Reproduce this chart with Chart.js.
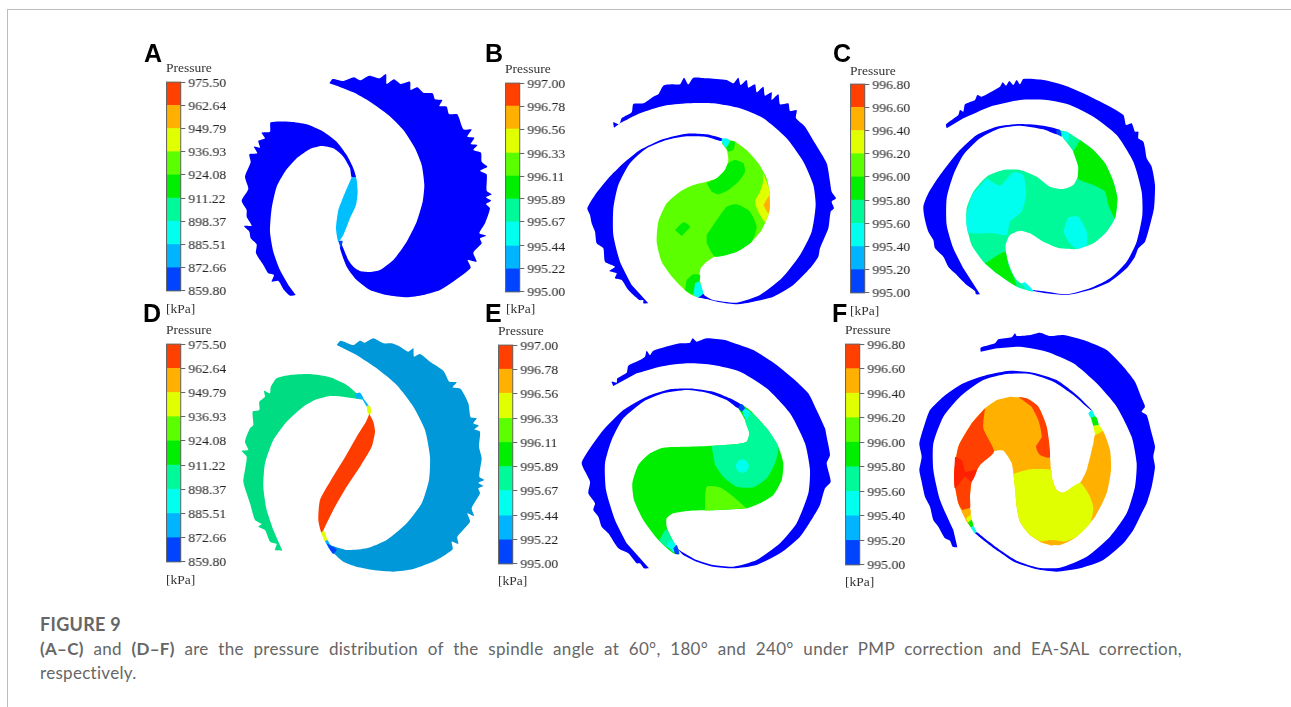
<!DOCTYPE html>
<html>
<head>
<meta charset="utf-8">
<title>Figure 9</title>
<script src="https://cdn.jsdelivr.net/npm/chart.js@4"></script>
<style>
html, body { margin: 0; padding: 0; background: #fff; width: 1291px; height: 707px; overflow: hidden; }
#frame { position: absolute; left: 7px; top: 9px; width: 1300px; height: 720px; border-left: 1.5px solid #bdbdbd; border-top: 1.5px solid #bdbdbd; }
canvas { position: absolute; }
.t { position: absolute; font-family: "Liberation Serif", serif; font-size: 13.5px; color: #333; line-height: 14px; white-space: nowrap; }
.letter { position: absolute; font-family: "Liberation Sans", sans-serif; font-weight: bold; font-size: 25px; line-height: 25px; color: #000; }
.cap { position: absolute; left: 40px; width: 1142px; font-family: Lato, "Open Sans", sans-serif; font-size: 17px; letter-spacing: 0.3px; line-height: 24px; color: #666; white-space: nowrap; }
</style>
</head>
<body>
<div id="frame"></div>
<div class="cap" style="top:612px;font-weight:bold;font-size:18px">FIGURE 9</div>
<div class="cap" style="top:637px;white-space:normal;text-align:justify;text-align-last:justify"><b>(A–C)</b> and <b>(D–F)</b> are the pressure distribution of the spindle angle at 60°, 180° and 240° under PMP correction and EA-SAL correction,</div>
<div class="cap" style="top:661px">respectively.</div>
<script>
// colour bar tick values
var ticksAD = [859.80, 872.66, 885.51, 898.37, 911.22, 924.08, 936.93, 949.79, 962.64, 975.50];
var ticksBE = [995.00, 995.22, 995.44, 995.67, 995.89, 996.11, 996.33, 996.56, 996.78, 997.00];
var ticksCF = [995.00, 995.20, 995.40, 995.60, 995.80, 996.00, 996.20, 996.40, 996.60, 996.80];

// contour outlines (panel units, y going down)
var aRight = [[598,145],[608,132],[640,138],[672,127],[690,136],[718,122],[748,130],[768,117],[770,147],[792,133],[812,147],[840,140],[842,165],[862,157],[880,173],[908,175],[915,193],[937,195],[928,213],[950,215],[957,237],[982,238],[1000,283],[1025,283],[1012,305],[1033,308],[1022,327],[1042,330],[1030,345],[1053,353],[1055,380],[1072,395],[1050,407],[1070,418],[1070,467],[1085,478],[1068,487],[1083,497],[1068,507],[1080,520],[1065,565],[1048,595],[1068,602],[1050,610],[1055,625],[1030,653],[1040,680],[1013,675],[1022,698],[990,725],[930,765],[880,780],[830,787],[770,780],[720,765],[680,735],[650,695],[630,640],[632,620],[640,640],[655,675],[670,695],[690,708],[720,711],[750,705],[790,675],[830,620],[860,560],[878,500],[883,450],[875,390],[855,340],[820,285],[775,240],[720,200],[670,172],[620,152]];
var aLeft = [[497,780],[480,782],[462,765],[445,738],[425,740],[432,720],[415,715],[400,690],[378,655],[380,628],[362,610],[358,590],[342,573],[365,572],[350,545],[350,525],[335,497],[355,462],[345,425],[362,382],[358,358],[382,355],[372,335],[390,338],[385,318],[405,310],[395,293],[420,290],[422,262],[480,260],[530,268],[580,290],[620,320],[650,360],[668,395],[678,427],[665,427],[660,400],[640,365],[610,340],[575,333],[540,342],[500,370],[465,410],[440,455],[425,520],[420,590],[430,650],[450,705],[475,750]];
var aLens = [[665,427],[678,427],[683,470],[678,510],[660,550],[640,600],[625,620],[618,580],[625,525],[640,485],[655,450]];
var aLensFoot = [[625,618],[638,618],[632,640]];

var bTop = [[402,278],[400,262],[418,268],[425,250],[455,232],[460,207],[490,205],[520,185],[535,178],[550,152],[575,148],[600,148],[612,128],[625,148],[640,128],[680,130],[740,135],[760,145],[775,128],[782,150],[800,135],[805,158],[825,148],[830,172],[850,155],[855,182],[875,172],[875,195],[895,178],[900,208],[925,205],[930,228],[950,225],[948,250],[975,275],[1005,325],[1040,385],[1050,440],[1055,470],[1068,490],[1055,500],[1062,520],[1052,530],[1045,580],[1020,640],[1015,665],[990,700],[940,750],[880,785],[820,800],[770,808],[720,802],[680,792],[650,785],[664,770],[675,782],[700,795],[770,803],[840,780],[905,730],[960,660],[995,590],[1007,510],[1000,450],[970,380],[920,310],[850,250],[780,220],[700,205],[620,205],[550,213],[480,235],[420,265]];
var bLeft = [[505,805],[490,805],[490,795],[478,795],[445,765],[425,735],[405,730],[410,715],[388,708],[405,695],[375,680],[370,640],[350,625],[345,590],[335,565],[330,540],[322,520],[345,480],[385,430],[430,385],[480,345],[550,312],[620,296],[680,298],[730,312],[722,318],[680,306],[620,304],[560,315],[500,340],[450,385],[415,450],[400,520],[400,600],[420,680],[455,750]];
var bChamber = [[735,312],[765,320],[800,345],[835,385],[860,430],[870,480],[868,530],[845,585],[815,620],[770,650],[705,665],[680,680],[662,700],[658,730],[665,760],[650,785],[620,770],[580,730],[545,680],[530,620],[535,560],[560,505],[600,470],[640,450],[680,440],[710,430],[735,405],[745,375],[740,345],[725,325]];
var bBlobUp = [[680,445],[710,430],[735,405],[745,385],[765,375],[790,385],[795,410],[775,440],[745,465],[715,478],[695,470]];
var bBlobMid = [[680,600],[700,570],[740,515],[770,508],[810,530],[830,575],[815,620],[770,650],[705,665],[680,625]];
var bBlobSmall = [[585,585],[610,562],[630,575],[605,603]];
var bBlobLow = [[620,735],[640,718],[660,720],[658,740],[638,778],[615,765]];
var bBlobTop = [[735,330],[750,318],[765,320],[760,345],[745,350]];
var bYellow = [[850,415],[865,455],[870,480],[868,530],[855,560],[835,530],[825,500],[840,470],[850,440]];
var bOrange = [[868,480],[870,510],[865,535],[850,510]];
var bNeckUp = [[725,312],[738,310],[750,318],[738,338],[727,325]];
var bNeckLow = [[645,745],[658,740],[670,775],[655,787],[640,780]];

var cTop = [[350,280],[348,268],[385,240],[390,225],[400,230],[405,208],[435,195],[442,180],[455,185],[510,155],[518,142],[528,152],[538,138],[550,150],[560,135],[570,148],[580,132],[640,135],[700,150],[760,175],[820,205],[880,240],[888,270],[905,265],[915,290],[925,290],[925,310],[940,320],[945,340],[950,370],[965,395],[975,450],[972,520],[960,570],[945,620],[925,640],[915,665],[890,700],[840,740],[780,765],[710,780],[650,775],[610,768],[605,765],[650,770],[710,778],[780,760],[840,730],[890,680],[920,620],[937,540],[935,470],[910,380],[860,300],[790,245],[720,210],[650,195],[570,195],[480,215],[400,250]];
var cLeft = [[450,778],[438,778],[435,768],[410,750],[375,715],[355,695],[340,665],[315,640],[310,615],[295,590],[285,555],[280,515],[295,475],[330,420],[385,350],[440,300],[500,275],[570,267],[640,272],[690,285],[680,298],[640,283],[570,272],[510,280],[450,310],[400,360],[370,420],[350,490],[350,570],[370,640],[400,700]];
var cChamber = [[685,285],[710,290],[750,315],[790,345],[825,385],[850,440],[862,490],[855,550],[830,590],[790,625],[740,642],[690,640],[640,620],[600,595],[570,587],[540,600],[527,630],[530,665],[545,710],[560,735],[580,750],[610,770],[560,755],[500,715],[460,680],[425,630],[410,570],[410,520],[430,470],[470,425],[520,405],[570,405],[620,425],[660,455],[700,462],[730,450],[745,420],[745,395],[730,350],[700,310]];
var cGreen = [[750,315],[790,345],[825,385],[850,440],[862,490],[855,550],[835,510],[825,470],[790,450],[745,432],[745,395],[730,350]];
var cCyan = [[470,430],[510,452],[550,412],[580,420],[588,480],[575,530],[540,560],[530,600],[490,595],[415,592],[410,540],[425,480]];
var cCyanSmall = [[700,590],[715,548],[745,545],[770,590],[770,630],[740,642],[715,620]];
var cGreenLow = [[465,685],[525,650],[535,690],[560,753],[500,715]];
var cNeckUp = [[695,290],[715,292],[715,320],[700,310]];
var cNeckBlue = [[678,285],[690,285],[695,305],[680,298]];
var cNeckLow = [[575,745],[585,742],[610,768],[590,765]];

var dRight = [[620,135],[632,122],[670,135],[690,122],[705,128],[730,115],[760,130],[785,130],[810,140],[835,155],[850,145],[852,170],[870,162],[900,185],[940,212],[958,245],[980,247],[968,262],[992,267],[1015,310],[1022,352],[1040,355],[1030,370],[1046,377],[1033,388],[1050,395],[1047,440],[1055,475],[1048,530],[1063,540],[1045,548],[1060,558],[1045,565],[1050,580],[1025,625],[1032,648],[1012,640],[1020,665],[982,710],[985,732],[965,725],[968,748],[920,780],[850,807],[790,815],[730,810],[680,800],[640,785],[610,758],[595,735],[650,750],[710,745],[770,720],[830,670],[875,610],[897,540],[900,470],[885,390],[850,320],[800,255],[740,205],[680,165]];
var dLeft = [[457,752],[435,750],[440,732],[420,725],[405,690],[385,680],[395,672],[375,660],[360,610],[340,545],[345,510],[350,470],[335,452],[355,450],[345,425],[360,385],[370,375],[368,335],[388,330],[388,305],[405,290],[402,272],[420,280],[422,262],[440,235],[480,225],[540,222],[600,232],[650,255],[680,280],[700,298],[680,296],[640,290],[600,288],[560,298],[520,320],[470,365],[430,420],[405,490],[400,560],[410,630],[430,690]];
var dNeck = [[675,282],[690,278],[700,295],[680,296]];
var dNeckBlue = [[688,279],[718,320],[711,320],[697,298]];
var dNeckYellow = [[710,318],[720,318],[724,335],[718,345],[712,335]];
var dLens = [[718,342],[730,365],[735,395],[725,440],[690,500],[650,560],[615,620],[585,680],[575,700],[565,660],[570,600],[600,545],[640,480],[680,410],[708,365]];
var dFootYellow = [[573,698],[582,692],[592,722],[585,726]];
var dFootCyan = [[585,724],[592,720],[606,744],[597,746]];
var dFootBlue = [[590,730],[620,748],[610,762],[600,750]];

var eTop = [[400,258],[395,245],[410,248],[412,235],[440,218],[445,197],[480,180],[495,170],[500,152],[510,165],[520,152],[600,130],[630,128],[638,115],[650,125],[680,115],[735,120],[750,125],[820,150],[890,195],[950,245],[985,280],[1005,320],[1035,385],[1040,410],[1050,465],[1040,490],[1052,545],[1035,565],[1020,615],[1000,650],[960,710],[900,760],[830,795],[760,805],[700,800],[650,785],[610,765],[600,755],[590,745],[605,755],[650,780],[700,795],[760,800],[830,780],[900,730],[950,670],[985,580],[990,510],[975,430],[930,340],[860,265],[780,215],[700,195],[620,190],[540,200],[470,220]];
var eLeft = [[507,805],[492,805],[480,790],[470,790],[445,760],[415,745],[385,700],[365,680],[355,650],[340,630],[345,610],[325,580],[330,545],[305,490],[330,445],[370,390],[430,330],[500,290],[570,268],[640,266],[700,275],[750,295],[785,315],[775,325],[740,300],[680,278],[620,270],[550,280],[490,305],[430,355],[395,420],[375,490],[378,570],[405,660],[440,730]];
var eChamber = [[785,312],[815,335],[860,385],[895,440],[910,490],[905,540],[880,585],[840,610],[800,625],[720,630],[630,632],[580,640],[560,655],[560,680],[575,715],[598,762],[580,760],[535,720],[490,660],[462,600],[457,550],[475,495],[510,460],[550,443],[620,440],[700,437],[770,432],[800,425],[808,400],[795,360],[775,325]];
var eTeal = [[695,438],[770,432],[800,425],[808,400],[795,360],[810,335],[860,385],[895,440],[885,490],[860,535],[820,562],[770,560],[730,530],[705,495]];
var eSpot = [[787,478],[800,483],[807,498],[800,513],[787,518],[774,513],[767,498],[774,483]];
var eNeckCyan = [[785,322],[810,335],[800,358],[790,345]];
var eNeckBlue = [[775,325],[785,312],[795,325],[785,335]];
var eLight = [[675,632],[680,560],[720,562],[760,590],[800,625]];
var eFootTeal = [[538,722],[558,688],[575,715],[598,760],[560,742]];
var eFootCyan = [[560,735],[575,720],[590,745],[580,757]];
var eFootBlue = [[580,745],[590,735],[598,762],[585,762]];

var fTop = [[452,155],[452,143],[495,130],[505,118],[545,112],[555,100],[560,108],[600,105],[630,98],[660,108],[700,105],[760,120],[830,150],[880,200],[915,245],[935,295],[945,320],[935,335],[950,345],[965,400],[975,440],[970,470],[975,500],[965,560],[950,610],[935,640],[910,690],[880,730],[820,780],[750,805],[680,815],[620,808],[555,787],[505,754],[470,728],[434,698],[440,696],[475,724],[510,750],[560,782],[625,803],[690,803],[770,770],[840,710],[890,640],[915,560],[920,490],[905,410],[860,320],[800,250],[730,190],[650,155],[570,140],[500,145]];
var fLeft = [[382,742],[368,740],[360,722],[345,715],[325,680],[310,660],[300,620],[285,590],[275,545],[268,510],[275,470],[268,430],[285,370],[300,330],[340,290],[400,250],[470,225],[540,212],[610,218],[680,240],[740,285],[790,335],[775,325],[730,285],[670,245],[600,222],[530,222],[460,240],[390,290],[340,350],[310,430],[310,510],[330,600],[370,690]];
var fChamber = [[540,290],[590,295],[625,320],[650,380],[660,470],[665,530],[680,570],[700,578],[750,548],[770,510],[790,430],[795,405],[818,392],[840,450],[843,510],[830,580],[795,650],[740,710],[690,735],[640,730],[600,705],[570,665],[560,620],[555,560],[545,490],[520,452],[490,455],[450,495],[425,545],[420,590],[420,640],[435,695],[410,665],[385,610],[372,530],[385,440],[425,370],[465,325],[500,300]];
var fRedLeft = [[465,325],[460,385],[492,455],[450,495],[425,545],[420,590],[420,625],[398,630],[385,610],[372,530],[385,440],[425,370]];
var fRedBright = [[375,470],[395,480],[407,515],[440,510],[425,545],[405,530],[375,565],[372,530]];
var fRedTop = [[565,290],[590,295],[625,320],[650,380],[660,472],[630,465],[618,440],[635,410],[625,360],[605,320]];
var fYellow = [[550,522],[600,508],[665,510],[665,530],[680,570],[700,578],[750,548],[780,590],[790,625],[780,670],[740,710],[700,725],[660,722],[635,725],[600,705],[570,665],[560,620]];
var fFoot = [[635,725],[660,720],[700,725],[665,737]];
var fNeckOrange = [[398,630],[420,625],[422,645],[408,655]];
var fNeckYellow = [[408,655],[422,645],[425,660],[414,668]];
var fNeckGreen = [[414,668],[425,660],[430,678],[422,682]];
var fNeckCyan = [[422,682],[430,678],[440,698],[432,698]];
var fUpCyan = [[775,340],[785,330],[795,350],[780,352]];
var fUpGreen = [[782,352],[798,350],[806,375],[790,378]];
var fUpYellow = [[790,378],[806,375],[818,392],[795,405]];

// contour level colours, lowest band first
var bands = ['#0044ff', '#00b4ff', '#00ffee', '#00fa9a', '#00ee00', '#5cff00', '#e0ff00', '#ffb000', '#ff4000'];
var BLUE = '#0000ff', SKY = '#0098d8', MINT = '#00dc82';

var panels = [
    { letter: 'A', lx: 144, ly: 41, ox: 130, oy: 35, w: 370, ticks: ticksAD, bar: [166, 81, 15.5, 211], title: [166, 61], unit: [166, 302],
      regions: [[aRight, BLUE], [aLeft, BLUE], [aLens, '#00bfff'], [aLensFoot, '#0040ff']] },
    { letter: 'B', lx: 485, ly: 41, ox: 480, oy: 35, w: 360, ticks: ticksBE, bar: [505, 82, 15.5, 211], title: [505, 62], unit: [506, 302],
      regions: [[bTop, BLUE], [bLeft, BLUE], [bChamber, bands[5]], [bBlobUp, bands[4]], [bBlobMid, bands[4]], [bBlobSmall, bands[4]], [bBlobLow, bands[4]], [bBlobTop, bands[4]], [bYellow, bands[6]], [bOrange, bands[7]], [bNeckUp, bands[2]], [bNeckLow, bands[2]]] },
    { letter: 'C', lx: 833, ly: 41, ox: 830, oy: 35, w: 340, ticks: ticksCF, bar: [850, 83, 15.5, 211], title: [850, 64], unit: [850, 304],
      regions: [[cTop, BLUE], [cLeft, BLUE], [cChamber, bands[3]], [cGreen, bands[4]], [cCyan, bands[2]], [cCyanSmall, bands[2]], [cGreenLow, bands[4]], [cNeckUp, bands[2]], [cNeckBlue, bands[0]], [cNeckLow, bands[2]]] },
    { letter: 'D', lx: 143, ly: 301, ox: 130, oy: 300, w: 370, ticks: ticksAD, bar: [166, 343, 15.5, 220], title: [166, 323], unit: [166, 573],
      regions: [[dRight, SKY], [dLeft, MINT], [dNeck, bands[1]], [dNeckBlue, bands[1]], [dNeckYellow, bands[6]], [dLens, '#ff3c00'], [dFootYellow, bands[6]], [dFootCyan, bands[1]], [dFootBlue, bands[0]]] },
    { letter: 'E', lx: 485, ly: 301, ox: 480, oy: 300, w: 360, ticks: ticksBE, bar: [498, 344, 15.5, 221], title: [498, 324], unit: [498, 574],
      regions: [[eTop, BLUE], [eLeft, BLUE], [eChamber, bands[4]], [eTeal, bands[3]], [eSpot, bands[2]], [eNeckCyan, bands[2]], [eNeckBlue, bands[0]], [eLight, bands[5]], [eFootTeal, bands[3]], [eFootCyan, bands[2]], [eFootBlue, bands[0]]] },
    { letter: 'F', lx: 832, ly: 301, ox: 830, oy: 300, w: 340, ticks: ticksCF, bar: [845, 343, 15.5, 223], title: [845, 323], unit: [845, 575],
      regions: [[fTop, BLUE], [fLeft, BLUE], [fChamber, bands[7]], [fRedLeft, bands[8]], [fRedBright, '#ff2000'], [fRedTop, bands[8]], [fYellow, bands[6]], [fFoot, bands[7]], [fNeckOrange, bands[7]], [fNeckYellow, bands[6]], [fNeckGreen, bands[4]], [fNeckCyan, bands[2]], [fUpCyan, bands[2]], [fUpGreen, bands[4]], [fUpYellow, bands[6]]] }
];

function addCanvas(left, top, w, h) {
    var c = document.createElement('canvas');
    c.width = w; c.height = h;
    c.style.left = left + 'px'; c.style.top = top + 'px';
    c.style.width = w + 'px'; c.style.height = h + 'px';
    document.body.appendChild(c);
    return c.getContext('2d');
}

function addText(cls, txt, x, y) {
    var d = document.createElement('div');
    d.className = cls; d.textContent = txt;
    d.style.left = x + 'px'; d.style.top = y + 'px';
    document.body.appendChild(d);
}

var barFrame = {
    id: 'barFrame',
    afterDatasetsDraw: function (chart) {
        var a = chart.chartArea, g = chart.ctx;
        g.save(); g.strokeStyle = '#666'; g.lineWidth = 1;
        g.strokeRect(a.left + 0.5, a.top, a.width - 1, a.height);
        g.restore();
    }
};

panels.forEach(function (p) {
    // the contour shapes, later regions sit on top so they get a lower order
    new Chart(addCanvas(p.ox, p.oy, p.w, 290), {
        type: 'scatter',
        data: {
            datasets: p.regions.map(function (r, i) {
                return {
                    data: r[0].map(function (q) { return { x: q[0], y: q[1] }; }),
                    order: p.regions.length - i,
                    showLine: true, fill: 'shape', borderWidth: 0, pointRadius: 0,
                    backgroundColor: r[1], borderColor: r[1], tension: 0.2
                };
            })
        },
        options: {
            responsive: false, animation: false,
            layout: { padding: 0 },
            plugins: { legend: { display: false }, tooltip: { enabled: false } },
            scales: {
                x: { type: 'linear', min: 0, max: p.w * 3, display: false },
                y: { type: 'linear', min: 0, max: 870, reverse: true, display: false }
            }
        }
    });

    // the colour bar
    var b = p.bar;
    new Chart(addCanvas(b[0], b[1] - 10, b[2] + 50, b[3] + 20), {
        type: 'bar',
        data: {
            labels: ['Pressure'],
            datasets: bands.map(function (col, i) {
                return { data: [[p.ticks[i], p.ticks[i + 1]]], backgroundColor: col, borderWidth: 0, barPercentage: 1, categoryPercentage: 1 };
            })
        },
        plugins: [barFrame],
        options: {
            responsive: false, animation: false,
            layout: { padding: { top: 10, bottom: 10 } },
            plugins: { legend: { display: false }, tooltip: { enabled: false } },
            scales: {
                x: { stacked: true, display: false },
                y: {
                    position: 'right', stacked: false,
                    min: p.ticks[0], max: p.ticks[p.ticks.length - 1],
                    afterBuildTicks: function (ax) { ax.ticks = p.ticks.map(function (v) { return { value: v }; }); },
                    afterFit: function (ax) { ax.width = 50; },
                    border: { display: false },
                    grid: { drawOnChartArea: false, drawTicks: true, tickLength: 4, color: '#666' },
                    ticks: {
                        autoSkip: false, padding: 3, labelOffset: 1, color: '#222',
                        font: { family: 'Liberation Serif', size: 13.5 },
                        callback: function (v) { return v.toFixed(2); }
                    }
                }
            }
        }
    });

    addText('letter', p.letter, p.lx, p.ly);
    addText('t', 'Pressure', p.title[0], p.title[1]);
    addText('t', '[kPa]', p.unit[0], p.unit[1]);
});
</script>
</body>
</html>
